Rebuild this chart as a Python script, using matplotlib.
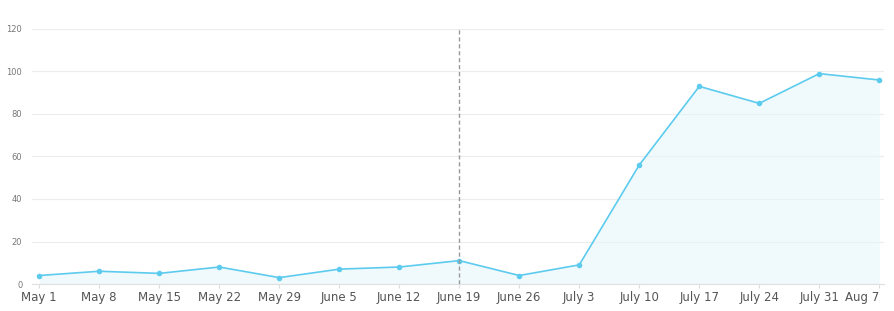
import numpy as np
import matplotlib.pyplot as plt

# weekly values
weeks = ['May 1', 'May 8', 'May 15', 'May 22', 'May 29', 'June 5', 'June 12',
         'June 19', 'June 26', 'July 3', 'July 10', 'July 17', 'July 24',
         'July 31', 'Aug 7']
values = [4, 6, 5, 8, 3, 7, 8, 11, 4, 9, 56, 93, 85, 99, 96]
yticks = [0, 20, 40, 60, 80, 100, 120]
marker_week = 'June 19'

line_color = '#5ccbee'
x = np.arange(len(weeks))

fig = plt.figure(figsize=(8.95, 3.11), dpi=100)
ax = fig.add_axes([0.0358, 0.0868, 0.952, 0.82])

ax.fill_between(x, values, 0, color='#e6f5fb', alpha=0.6, linewidth=0)
ax.plot(x, values, color=line_color, linewidth=1.2, marker='o', markersize=4,
        markerfacecolor=line_color, markeredgewidth=0)

ax.axvline(weeks.index(marker_week), color='#999999', linestyle=(0, (3, 2)), linewidth=1)

ax.set_xlim(-0.12, 14.08)
ax.set_ylim(0, 120)
ax.set_yticks(yticks)
ax.set_xticks(x)
ax.set_xticklabels(weeks)
ax.get_xticklabels()[-1].set_horizontalalignment('right')

ax.grid(axis='y', color='#ececec', linewidth=0.8)
ax.set_axisbelow(True)
for s in ['top', 'right', 'left']:
    ax.spines[s].set_visible(False)
ax.spines['bottom'].set_color('#e0e0e0')

ax.tick_params(axis='y', length=0, labelsize=6, labelcolor='#777777', pad=7)
ax.tick_params(axis='x', length=3, color='#dddddd', labelsize=8.5,
               labelcolor='#555555', pad=2)

plt.savefig('out.png', dpi=100)
